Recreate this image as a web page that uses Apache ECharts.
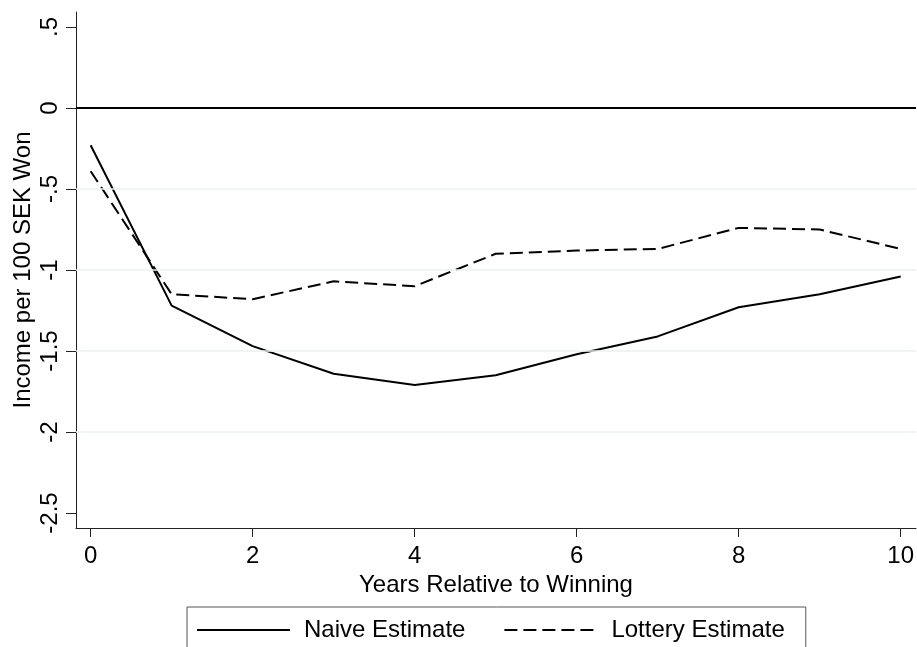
<!DOCTYPE html>
<html>
<head>
<meta charset="utf-8">
<script src="https://cdn.jsdelivr.net/npm/echarts@6/dist/echarts.min.js"></script>
<style>
html,body{margin:0;padding:0;background:#fff;}
#chart{width:917px;height:647px;}
</style>
</head>
<body>
<div id="chart"></div>
<script>
var years = [0, 1, 2, 3, 4, 5, 6, 7, 8, 9, 10];
var naiveEstimate = [-0.23, -1.22, -1.47, -1.64, -1.71, -1.65, -1.52, -1.41, -1.23, -1.15, -1.04];
var lotteryEstimate = [-0.39, -1.15, -1.18, -1.07, -1.10, -0.90, -0.88, -0.87, -0.74, -0.75, -0.87];
var xTickValues = [0, 2, 4, 6, 8, 10];
var yTickValues = [-2.5, -2, -1.5, -1, -0.5, 0, 0.5];
var yTickLabels = ['-2.5', '-2', '-1.5', '-1', '-.5', '0', '.5'];
var gridValues = [-0.5, -1, -1.5, -2];
var zeroLine = [0];

var chart = echarts.init(document.getElementById('chart'), null, {renderer: 'canvas'});
var font = 'Liberation Sans, Arial, Helvetica, sans-serif';

function pairs(xs, ys) { return xs.map(function (x, i) { return [x, ys[i]]; }); }

var option = {
  animation: false,
  backgroundColor: '#ffffff',
  textStyle: {fontFamily: font},
  grid: {left: 76, top: 12, width: 840, height: 516, containLabel: false, outerBoundsMode: 'none'},
  xAxis: {
    type: 'value', min: -0.181, max: 10.189,
    name: 'Years Relative to Winning', nameLocation: 'middle', nameGap: 45, nameMoveOverlap: false,
    nameTextStyle: {fontSize: 24, color: '#000', fontFamily: font},
    axisLine: {show: true, onZero: false, lineStyle: {color: '#222', width: 1}},
    axisTick: {show: true, length: 9, customValues: xTickValues, lineStyle: {color: '#222', width: 1}},
    axisLabel: {customValues: xTickValues, fontSize: 24, color: '#000', margin: 16, fontFamily: font},
    splitLine: {show: false}
  },
  yAxis: {
    type: 'value', min: -2.5926, max: 0.5926,
    name: 'Income per 100 SEK Won', nameLocation: 'middle', nameGap: 41, nameRotate: 90, nameMoveOverlap: false,
    nameTextStyle: {fontSize: 24, color: '#000', fontFamily: font},
    axisLine: {show: true, onZero: false, lineStyle: {color: '#222', width: 1}},
    axisTick: {show: true, length: 10, customValues: yTickValues, lineStyle: {color: '#222', width: 1}},
    axisLabel: {
      customValues: yTickValues, rotate: 90, fontSize: 24, color: '#000', margin: 14, fontFamily: font,
      formatter: function (v) {
        for (var i = 0; i < yTickValues.length; i++) {
          if (Math.abs(yTickValues[i] - v) < 1e-6) return yTickLabels[i];
        }
        return '';
      }
    },
    splitLine: {show: false}
  },
  legend: {
    left: 187, top: 607,
    orient: 'horizontal',
    padding: [11, 21, 11, 9],
    borderColor: '#555', borderWidth: 1,
    itemWidth: 93, itemHeight: 24, itemGap: 38,
    itemStyle: {color: 'transparent', borderWidth: 0, opacity: 0},
    textStyle: {fontSize: 24, color: '#000', fontFamily: font, padding: [0, 0, 0, 9]},
    data: ['Naive Estimate', 'Lottery Estimate']
  },
  series: [
    {
      name: 'grid', type: 'line', data: [], z: 1, silent: true,
      markLine: {
        silent: true, symbol: 'none', label: {show: false}, animation: false,
        lineStyle: {color: '#eaf1f3', width: 1.5, type: 'solid'},
        data: gridValues.map(function (v) { return {yAxis: v}; })
      }
    },
    {
      name: 'zero', type: 'line', data: [], z: 2, silent: true,
      markLine: {
        silent: true, symbol: 'none', label: {show: false}, animation: false,
        lineStyle: {color: '#000', width: 2, type: 'solid'},
        data: zeroLine.map(function (v) { return {yAxis: v}; })
      }
    },
    {
      name: 'Naive Estimate', type: 'line', z: 3,
      data: pairs(years, naiveEstimate),
      symbol: 'none', showSymbol: false,
      lineStyle: {color: '#000', width: 2, type: 'solid'},
      itemStyle: {color: '#000'}
    },
    {
      name: 'Lottery Estimate', type: 'line', z: 3,
      data: pairs(years, lotteryEstimate),
      symbol: 'none', showSymbol: false,
      lineStyle: {color: '#000', width: 2, type: [13, 6]},
      itemStyle: {color: '#000'}
    }
  ]
};
chart.setOption(option);
</script>
</body>
</html>
